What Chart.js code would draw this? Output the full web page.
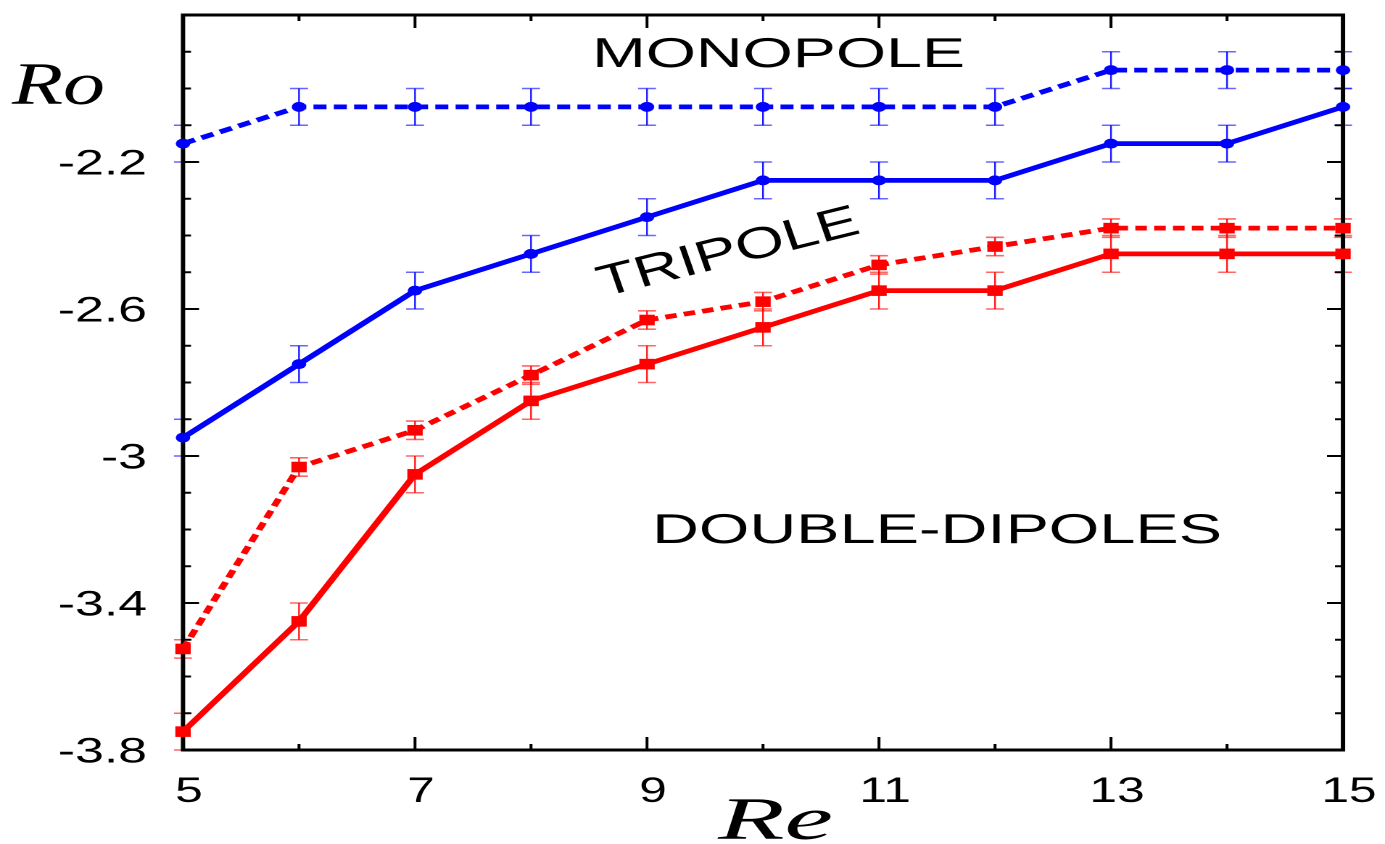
<!DOCTYPE html>
<html><head><meta charset="utf-8">
<script src="https://cdn.jsdelivr.net/npm/chart.js@4.4.1/dist/chart.umd.min.js"></script>
<style>
html,body{margin:0;padding:0;background:#fff;overflow:hidden;width:1385px;height:844px}
#wrap{position:absolute;left:0;top:0;width:955px;height:844px;transform-origin:0 0;transform:scaleX(1.4502618)}
canvas{display:block}
</style></head><body>
<div id="wrap"><canvas id="c" width="955" height="844" style="width:955px;height:844px"></canvas></div>
<script>
// ---- data ----
const reValues = [5, 6, 7, 8, 9, 10, 11, 12, 13, 14, 15];
const monopoleRo = [-2.15, -2.05, -2.05, -2.05, -2.05, -2.05, -2.05, -2.05, -1.95, -1.95, -1.95];
const monopoleErr = [0.05, 0.05, 0.05, 0.05, 0.05, 0.05, 0.05, 0.05, 0.05, 0.05, 0.05];
const tripoleRo = [-2.95, -2.75, -2.55, -2.45, -2.35, -2.25, -2.25, -2.25, -2.15, -2.15, -2.05];
const tripoleErr = [0.05, 0.05, 0.05, 0.05, 0.05, 0.05, 0.05, 0.05, 0.05, 0.05, 0.05];
const dipoleDashedRo = [-3.525, -3.03, -2.93, -2.78, -2.63, -2.58, -2.48, -2.43, -2.38, -2.38, -2.38];
const dipoleDashedErr = [0.025, 0.025, 0.025, 0.025, 0.025, 0.025, 0.025, 0.025, 0.025, 0.025, 0.025];
const dipoleSolidRo = [-3.75, -3.45, -3.05, -2.85, -2.75, -2.65, -2.55, -2.55, -2.45, -2.45, -2.45];
const dipoleSolidErr = [0.05, 0.05, 0.05, 0.05, 0.05, 0.05, 0.05, 0.05, 0.05, 0.05, 0.05];
const xTickValues = [5, 7, 9, 11, 13, 15];
const xTickLabels = ['5', '7', '9', '11', '13', '15'];
const yTickValues = [-3.8, -3.4, -3, -2.6, -2.2];
const yTickLabels = ['-3.8', '-3.4', '-3', '-2.6', '-2.2'];

const W = 955, S = 1385 / W;
const BLUE = '#0000ff', RED = '#ff0000';

const series = [
  {vals: monopoleRo, err: monopoleErr, color: BLUE, dash: [9, 5], style: 'circle', r: 5},
  {vals: tripoleRo, err: tripoleErr, color: BLUE, dash: [], style: 'circle', r: 5},
  {vals: dipoleDashedRo, err: dipoleDashedErr, color: RED, dash: [8, 5], style: 'rect', r: 7.5},
  {vals: dipoleSolidRo, err: dipoleSolidErr, color: RED, dash: [], style: 'rect', r: 7.5}
];

function pageText(ctx, txt, x, y, font, align, sx) {
  ctx.save();
  ctx.scale(1 / S, 1);
  ctx.font = font; ctx.textAlign = align; ctx.textBaseline = 'alphabetic';
  ctx.fillStyle = '#000';
  ctx.translate(x, y); ctx.scale(sx, 1);
  ctx.fillText(txt, 0, 0);
  ctx.restore();
}
function pageTextW(ctx, txt, x, y, font, width) {
  ctx.save(); ctx.font = font;
  const m = ctx.measureText(txt).width; ctx.restore();
  pageText(ctx, txt, x, y, font, 'left', width / m);
}

const decor = {
  id: 'decor',
  beforeDatasetsDraw(chart) {
    const {ctx, chartArea: a, scales: {x, y}} = chart;
    ctx.save();
    // error bars
    series.forEach(s => {
      reValues.forEach((re, i) => {
        const px = x.getPixelForValue(re);
        const lo = y.getPixelForValue(s.vals[i] - s.err[i]);
        const hi = y.getPixelForValue(s.vals[i] + s.err[i]);
        ctx.strokeStyle = s.color;
        ctx.globalAlpha = 0.9; ctx.lineWidth = 1.2;
        ctx.beginPath(); ctx.moveTo(px, lo); ctx.lineTo(px, hi); ctx.stroke();
        ctx.globalAlpha = 0.6; ctx.lineWidth = 1.6;
        ctx.beginPath();
        ctx.moveTo(px - 6.2, lo); ctx.lineTo(px + 6.2, lo);
        ctx.moveTo(px - 6.2, hi); ctx.lineTo(px + 6.2, hi);
        ctx.stroke();
      });
    });
    ctx.globalAlpha = 1;
    // frame
    ctx.strokeStyle = '#000'; ctx.lineWidth = 3;
    ctx.strokeRect(a.left, a.top, a.right - a.left, a.bottom - a.top);
    // x ticks (inward, bottom & top)
    ctx.lineWidth = 2;
    for (let v = x.min; v <= x.max + 1e-9; v += 1) {
      const px = x.getPixelForValue(v);
      const major = xTickValues.some(t => Math.abs(t - v) < 1e-6);
      const len = major ? 13 : 6;
      ctx.beginPath();
      ctx.moveTo(px, a.bottom); ctx.lineTo(px, a.bottom - len);
      ctx.moveTo(px, a.top); ctx.lineTo(px, a.top + len);
      ctx.stroke();
    }
    // y ticks (inward, left & right)
    for (let k = 0; k <= 20; k++) {
      const v = y.min + k * 0.1;
      const py = y.getPixelForValue(v);
      const major = yTickValues.some(t => Math.abs(t - v) < 1e-6);
      const len = (major ? 16 : 8) / S;
      ctx.beginPath();
      ctx.moveTo(a.left, py); ctx.lineTo(a.left + len, py);
      ctx.moveTo(a.right, py); ctx.lineTo(a.right - len, py);
      ctx.stroke();
    }
    ctx.restore();
  },
  afterDraw(chart) {
    const {ctx, scales: {x, y}} = chart;
    const tickFont = '35px "Liberation Sans", Arial, sans-serif';
    yTickValues.forEach((v, i) => {
      pageText(ctx, yTickLabels[i], 147, y.getPixelForValue(v) + 12.5, tickFont, 'right', 1.48);
    });
    xTickValues.forEach((v, i) => {
      pageText(ctx, xTickLabels[i], x.getPixelForValue(v) * S + 6, 802, tickFont, 'center', 1.42);
    });
    const big = '42px "Liberation Sans", Arial, sans-serif';
    pageTextW(ctx, 'MONOPOLE', 592, 67, big, 373);
    pageTextW(ctx, 'DOUBLE-DIPOLES', 652, 543, big, 570);
    const serif = 'italic 60px "Liberation Serif", "Times New Roman", serif';
    pageTextW(ctx, 'Ro', 12, 104, serif, 93);
    pageTextW(ctx, 'Re', 718, 839, serif, 115);
    // rotated TRIPOLE
    ctx.save();
    ctx.scale(1 / S, 1);
    ctx.font = big;
    const m = ctx.measureText('TRIPOLE').width;
    const sx = 267 / m;
    const al = -13.9 * Math.PI / 180;
    ctx.transform(Math.cos(al) * sx, Math.sin(al) * sx, 0.35, 1, 603, 297);
    ctx.fillStyle = '#000'; ctx.textAlign = 'left'; ctx.textBaseline = 'alphabetic';
    ctx.fillText('TRIPOLE', 0, 0);
    ctx.restore();
  }
};

new Chart(document.getElementById('c'), {
  type: 'line',
  data: {
    datasets: series.map(s => ({
      data: reValues.map((re, i) => ({x: re, y: s.vals[i]})),
      borderColor: s.color,
      backgroundColor: s.color,
      borderWidth: 4.8,
      borderDash: s.dash,
      pointStyle: s.style,
      pointRadius: s.r,
      pointBorderWidth: 0,
      pointBackgroundColor: s.color,
      tension: 0,
      clip: false
    }))
  },
  options: {
    responsive: false,
    devicePixelRatio: 2,
    animation: false,
    events: [],
    layout: {padding: {left: 183 / S, right: (1385 - 1343) / S, top: 15, bottom: 94}},
    plugins: {legend: {display: false}, tooltip: {enabled: false}},
    scales: {
      x: {type: 'linear', min: 5, max: 15, display: false},
      y: {type: 'linear', min: -3.8, max: -1.8, display: false}
    }
  },
  plugins: [decor]
});
</script>
</body></html>
